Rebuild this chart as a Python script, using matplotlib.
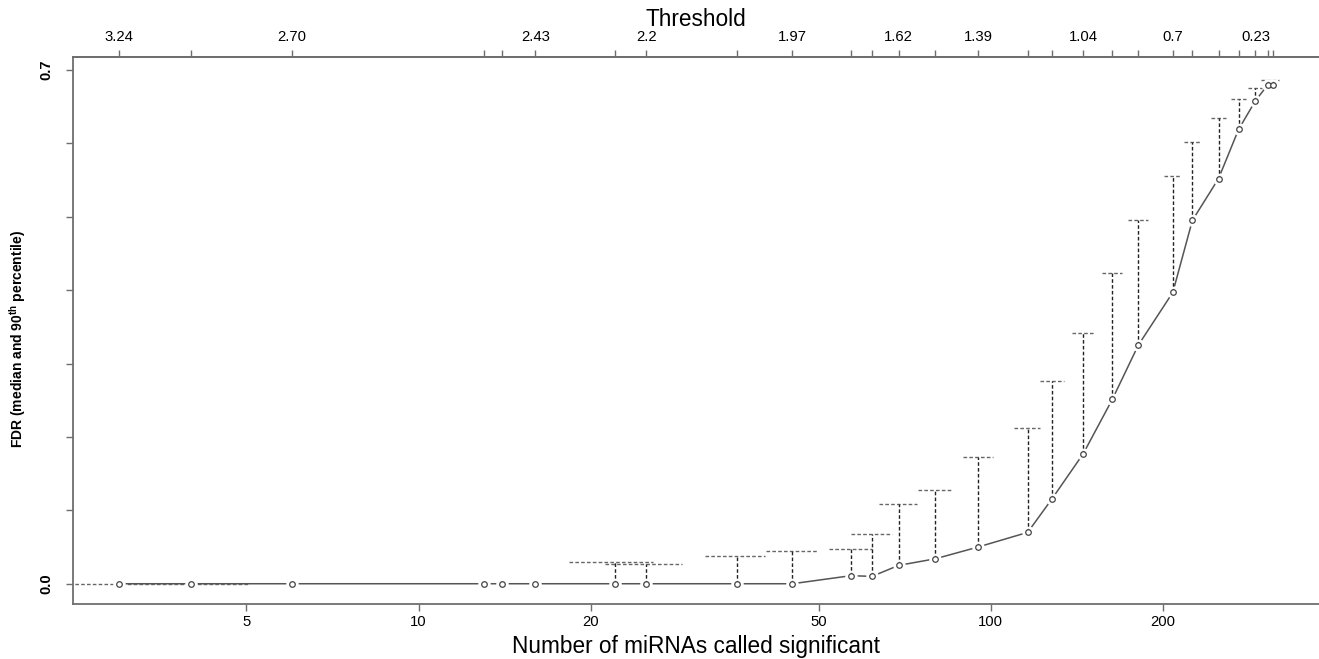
import numpy as np
import matplotlib
matplotlib.use("Agg")
import matplotlib.pyplot as plt
from matplotlib.ticker import NullLocator

# Number of miRNAs called significant at each threshold
n_called = [3, 4, 6, 13, 14, 16, 22, 25, 36, 45, 57, 62, 69, 80, 95,
            116, 128, 145, 163, 181, 208, 225, 250, 271, 290, 305, 311]
fdr_median = [0, 0, 0, 0, 0, 0, 0, 0, 0, 0, 0.011, 0.010, 0.025, 0.034, 0.050,
              0.070, 0.116, 0.177, 0.251, 0.325, 0.397, 0.495, 0.552, 0.619,
              0.658, 0.680, 0.680]
fdr_p90 = [0, 0, 0, 0, 0, 0, 0.030, 0.027, 0.038, 0.045, 0.047, 0.068, 0.108,
           0.128, 0.172, 0.212, 0.276, 0.342, 0.423, 0.495, 0.555, 0.602,
           0.634, 0.661, 0.676, 0.686, 0.686]
threshold_labels = ["3.24", "", "2.70", "", "", "2.43", "", "2.2", "", "1.97",
                    "", "", "1.62", "", "1.39", "", "", "1.04", "", "", "0.7",
                    "", "", "", "0.23", "", ""]
x_ticks = [5, 10, 20, 50, 100, 200]
y_ticks = [0.0, 0.1, 0.2, 0.3, 0.4, 0.5, 0.6, 0.7]
y_labels = ["0.0", "", "", "", "", "", "", "0.7"]


def main():
    plt.rcParams['font.family'] = ['Liberation Sans', 'DejaVu Sans']
    plt.rcParams['mathtext.fontset'] = 'custom'
    plt.rcParams['mathtext.rm'] = 'Liberation Sans'
    plt.rcParams['mathtext.bf'] = 'Liberation Sans:bold'

    n = np.array(n_called, dtype=float)
    med = np.array(fdr_median)
    p90 = np.array(fdr_p90)

    fig = plt.figure(figsize=(13.19, 6.59), dpi=100)
    ax = fig.add_axes([73 / 1319, 55 / 659, 1246 / 1319, 547 / 659])
    ax.set_xscale('log')
    ax.set_xlim(2.49, 374.5)
    ax.set_ylim(-0.0276, 0.7176)

    dash = (0, (2.6, 1.6))
    grey = '#555555'
    axis_grey = '#6e6e6e'

    # caps of the 90th percentile bars (half width grows slowly with n);
    # caps lying on the median line are hidden anyway, except the first
    half = 1.47 * n ** 0.3
    show = (p90 > med) | (n == n.min())
    ax.hlines(p90[show], (n - half)[show], (n + half)[show],
              colors='#666666', linewidth=1.0, linestyles=dash, zorder=2)

    # median line, with gaps round the points like R type="b"
    ax.plot(n, med, color=grey, linewidth=1.1, zorder=3)
    ax.plot(n, med, linestyle='none', marker='o', markersize=9,
            markerfacecolor='white', markeredgecolor='none', zorder=4)

    # dashed bars from median up to 90th percentile
    ax.vlines(n, med, p90, colors='#222222', linewidth=1.0,
              linestyles=dash, zorder=5)

    ax.plot(n, med, linestyle='none', marker='o', markersize=4.0,
            markerfacecolor='white', markeredgecolor='#444444',
            markeredgewidth=0.9, zorder=6)

    # spines
    ax.spines['right'].set_visible(False)
    for side in ['left', 'top', 'bottom']:
        ax.spines[side].set_color(axis_grey)
        ax.spines[side].set_linewidth(1.3)

    # bottom axis
    ax.set_xticks(x_ticks)
    ax.set_xticklabels([str(t) for t in x_ticks], fontsize=10.7)
    ax.xaxis.set_minor_locator(NullLocator())
    ax.tick_params(axis='x', direction='out', length=5, width=1,
                   color=axis_grey, pad=3)
    ax.set_xlabel('Number of miRNAs called significant', fontsize=16.3,
                  labelpad=4)

    # left axis
    ax.set_yticks(y_ticks)
    ax.set_yticklabels(y_labels, fontsize=10.5, fontweight='bold',
                       rotation=90, va='center')
    ax.tick_params(axis='y', direction='out', length=5, width=1,
                   color=axis_grey, pad=9)
    fig.text(18 / 1319, 1 - 339 / 659,
             r'FDR (median and 90$^{\mathbf{th}}$ percentile)',
             rotation=90, ha='center', va='center', fontsize=10,
             fontweight='bold')

    # top axis: threshold for each point
    top = ax.secondary_xaxis('top')
    top.set_xticks(n_called)
    top.set_xticklabels(threshold_labels, fontsize=10.7)
    top.xaxis.set_minor_locator(NullLocator())
    top.tick_params(axis='x', direction='out', length=5, width=1,
                    color=axis_grey, pad=4)
    top.spines['top'].set_color(axis_grey)
    top.spines['top'].set_linewidth(1.3)
    top.set_xlabel('Threshold', fontsize=16.3, labelpad=3)

    fig.savefig('out.png', dpi=100)


if __name__ == "__main__":
    main()
